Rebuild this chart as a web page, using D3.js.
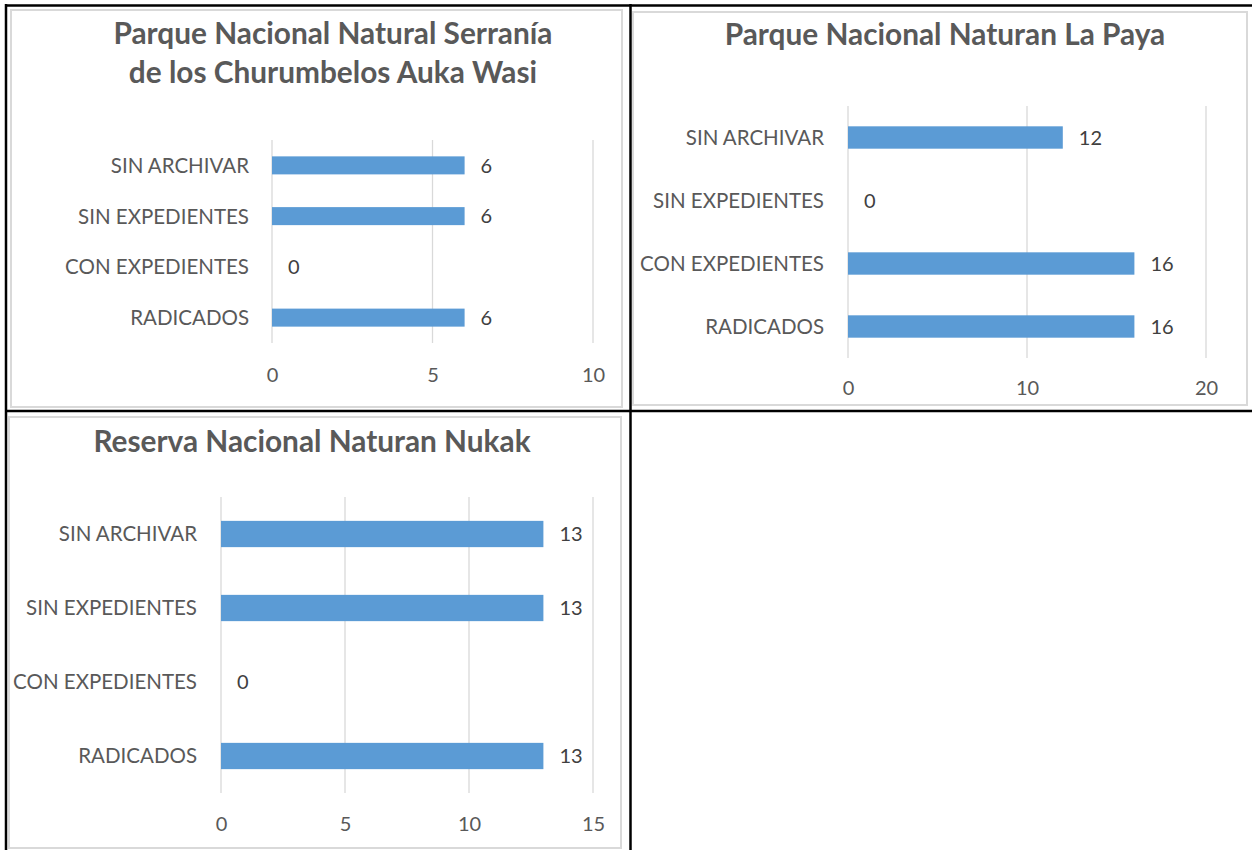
<!DOCTYPE html>
<html>
<head>
<meta charset="utf-8">
<script src="https://cdn.jsdelivr.net/npm/d3@7"></script>
<style>
  html, body { margin: 0; padding: 0; background: #fff; }
  svg { display: block; }
</style>
</head>
<body>
<svg id="c" width="1252" height="850"></svg>
<script>
// ---- data ----
const categories = ["SIN ARCHIVAR", "SIN EXPEDIENTES", "CON EXPEDIENTES", "RADICADOS"]; // top to bottom
const valuesAukaWasi = [6, 6, 0, 6];
const valuesLaPaya = [12, 0, 16, 16];
const valuesNukak = [13, 13, 0, 13];
const titleAukaWasi = ["Parque Nacional Natural Serranía", "de los Churumbelos Auka Wasi"];
const titleLaPaya = ["Parque Nacional Naturan La Paya"];
const titleNukak = ["Reserva Nacional Naturan Nukak"];
const ticksAukaWasi = [0, 5, 10];
const ticksLaPaya = [0, 10, 20];
const ticksNukak = [0, 5, 10, 15];

// ---- layout ----
const charts = [
  { title: titleAukaWasi, values: valuesAukaWasi, ticks: ticksAukaWasi,
    frame: [11, 10, 611, 397], plot: [272, 593, 140, 343], titleX: 333, titleY: [44, 83],
    tickY: 375, labelRight: 249 },
  { title: titleLaPaya, values: valuesLaPaya, ticks: ticksLaPaya,
    frame: [633, 12, 614, 393], plot: [848, 1206, 106, 358], titleX: 945, titleY: [45],
    tickY: 388, labelRight: 824 },
  { title: titleNukak, values: valuesNukak, ticks: ticksNukak,
    frame: [9, 417, 612, 431], plot: [221, 593, 497, 793], titleX: 312, titleY: [452],
    tickY: 824, labelRight: 197 }
];

const FONT = "Lato, 'Open Sans', sans-serif";
const svg = d3.select("#c");

charts.forEach(ch => {
  const g = svg.append("g");
  const [fx, fy, fw, fh] = ch.frame;
  g.append("rect").attr("x", fx).attr("y", fy).attr("width", fw).attr("height", fh)
    .attr("fill", "#fff").attr("stroke", "#D9D9D9").attr("stroke-width", 2);

  const [x0, x1, y0, y1] = ch.plot;
  const x = d3.scaleLinear().domain([ch.ticks[0], ch.ticks[ch.ticks.length - 1]]).range([x0, x1]);
  const y = d3.scaleBand().domain(categories).range([y0, y1]).paddingInner(0.645).paddingOuter(0.3225);

  // gridlines
  g.append("g").selectAll("line").data(ch.ticks).join("line")
    .attr("x1", d => x(d)).attr("x2", d => x(d)).attr("y1", y0).attr("y2", y1)
    .attr("stroke", "#D9D9D9").attr("stroke-width", 1.3);

  // x axis tick labels
  const xa = d3.axisBottom(x).tickValues(ch.ticks).tickSize(0).tickPadding(0);
  const xg = g.append("g").attr("transform", `translate(0,${ch.tickY})`).call(xa);
  xg.select(".domain").remove();
  xg.selectAll("text").attr("dy", "0.36em").attr("font-family", FONT).attr("font-size", 20)
    .attr("fill", "#595959");

  // y axis category labels
  const ya = d3.axisLeft(y).tickSize(0).tickPadding(0);
  const yg = g.append("g").attr("transform", `translate(${ch.labelRight},0)`).call(ya);
  yg.select(".domain").remove();
  yg.selectAll("text").attr("dy", "0.36em").attr("font-family", FONT).attr("font-size", 20.5)
    .attr("fill", "#595959");

  // bars
  const data = categories.map((c, i) => ({ c, v: ch.values[i] }));
  g.append("g").selectAll("rect").data(data).join("rect")
    .attr("x", x(0)).attr("y", d => y(d.c))
    .attr("width", d => x(d.v) - x(0)).attr("height", y.bandwidth())
    .attr("fill", "#5B9BD5");

  // value labels
  g.append("g").selectAll("text").data(data).join("text")
    .attr("x", d => x(d.v) + 16).attr("y", d => y(d.c) + y.bandwidth() / 2)
    .attr("dy", "0.36em").attr("font-family", FONT).attr("font-size", 20)
    .attr("fill", "#404040").text(d => d.v);

  // title
  g.append("g").selectAll("text").data(ch.title).join("text")
    .attr("x", ch.titleX).attr("y", (d, i) => ch.titleY[i])
    .attr("text-anchor", "middle").attr("font-family", FONT).attr("font-weight", "bold")
    .attr("font-size", 29.8).attr("fill", "#595959").text(d => d);
});

// table borders
const tableLines = [
  [5, 5.5, 1252, 5.5],
  [6, 4, 6, 850],
  [630.5, 4, 630.5, 850],
  [5, 411, 1252, 411]
];
svg.append("g").selectAll("line").data(tableLines).join("line")
  .attr("x1", d => d[0]).attr("y1", d => d[1]).attr("x2", d => d[2]).attr("y2", d => d[3])
  .attr("stroke", "#000").attr("stroke-width", 2.5);
</script>
</body>
</html>
